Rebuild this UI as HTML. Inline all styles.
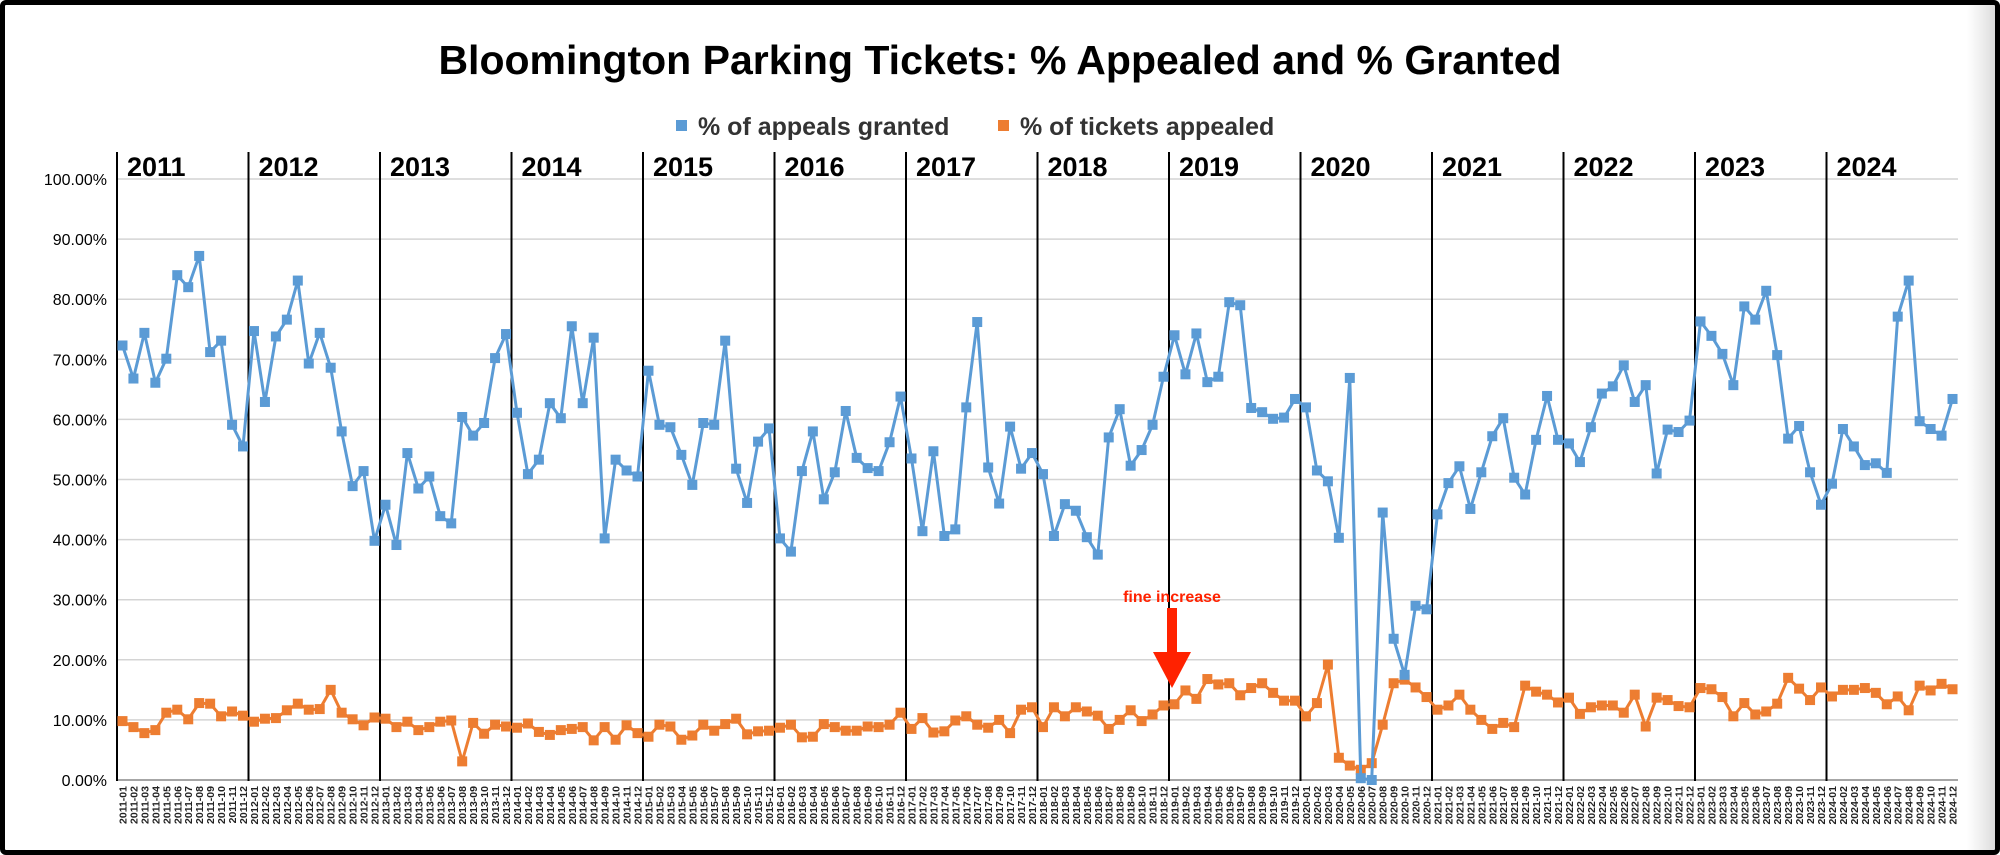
<!DOCTYPE html>
<html>
<head>
<meta charset="utf-8">
<style>
  html,body{margin:0;padding:0;background:#fff;}
  body{width:2000px;height:855px;overflow:hidden;position:relative;font-family:"Liberation Sans",Arial,sans-serif;}
  #frame{position:absolute;left:0;top:0;width:1990px;height:845px;border:5px solid #000;border-radius:6px;
    background:linear-gradient(to right,#fff 0,#fff 1962px,#f0f0f0 1975px,#dcdcdc 1990px);}
  svg{position:absolute;left:0;top:0;}
</style>
</head>
<body>
<div id="frame"></div>
<svg id="chart" width="2000" height="855" xmlns="http://www.w3.org/2000/svg">
  <text x="1000" y="74" text-anchor="middle" font-family="Liberation Sans, Arial, sans-serif" font-weight="bold" font-size="41" fill="#000">Bloomington Parking Tickets: % Appealed and % Granted</text>
  <g>
    <g>
      <rect x="676" y="120" width="11" height="11" fill="#5b9bd5"></rect>
      <text x="698" y="135" font-family="Liberation Sans, Arial, sans-serif" font-weight="bold" font-size="25" fill="#333">% of appeals granted</text>
    </g>
    <g>
      <rect x="998" y="120" width="11" height="11" fill="#ed7d31"></rect>
      <text x="1020" y="135" font-family="Liberation Sans, Arial, sans-serif" font-weight="bold" font-size="25" fill="#333">% of tickets appealed</text>
    </g>
  </g>
  <g id="grid"></g>
  <g id="yticks"></g>
  <g id="years"></g>
  <g id="xticks"></g>
  <g id="series"></g>
  <g>
    <text x="1172" y="602" text-anchor="middle" font-family="Liberation Sans, Arial, sans-serif" font-weight="bold" font-size="16" fill="#ff2200">fine increase</text>
    <rect x="1167" y="608" width="10" height="46" fill="#ff2200"></rect>
    <polygon points="1153,652 1191,652 1172,688" fill="#ff2200"></polygon>
  </g>
</svg>
<script>
const years = [2011,2012,2013,2014,2015,2016,2017,2018,2019,2020,2021,2022,2023,2024];
const months = ["01","02","03","04","05","06","07","08","09","10","11","12"];
const yTicks = [0,10,20,30,40,50,60,70,80,90,100];
const granted = [
  72.3,66.8,74.4,66.1,70.1,84.0,82.0,87.2,71.2,73.1,59.1,55.5,
  74.7,62.9,73.8,76.6,83.1,69.3,74.4,68.6,58.0,48.9,51.4,39.8,
  45.8,39.1,54.4,48.5,50.5,43.9,42.7,60.4,57.3,59.4,70.2,74.2,
  61.1,50.9,53.3,62.7,60.2,75.5,62.7,73.6,40.2,53.3,51.5,50.5,
  68.1,59.1,58.7,54.1,49.1,59.4,59.1,73.1,51.8,46.1,56.3,58.5,
  40.2,38.0,51.4,58.0,46.7,51.2,61.4,53.6,51.9,51.4,56.2,63.8,
  53.5,41.4,54.7,40.6,41.7,62.0,76.2,52.0,46.0,58.8,51.8,54.4,
  50.9,40.6,45.9,44.8,40.4,37.5,57.0,61.7,52.3,54.9,59.1,67.1,
  74.0,67.5,74.3,66.2,67.1,79.5,79.0,61.9,61.2,60.1,60.3,63.4,
  62.0,51.5,49.7,40.3,66.9,0.3,0.0,44.5,23.5,17.5,29.0,28.4,
  44.2,49.4,52.2,45.1,51.2,57.2,60.2,50.3,47.5,56.6,63.9,56.6,
  56.0,52.9,58.7,64.3,65.5,69.0,62.9,65.7,51.0,58.3,57.9,59.8,
  76.3,73.9,70.9,65.7,78.8,76.6,81.4,70.7,56.8,58.9,51.2,45.8,
  49.3,58.4,55.5,52.4,52.7,51.1,77.1,83.1,59.7,58.4,57.3,63.4
];
const appealed = [
  9.8,8.8,7.8,8.3,11.2,11.7,10.1,12.8,12.7,10.6,11.4,10.7,
  9.7,10.2,10.3,11.6,12.7,11.7,11.8,15.0,11.2,10.1,9.1,10.4,
  10.2,8.8,9.7,8.3,8.8,9.7,9.9,3.1,9.5,7.7,9.2,8.9,
  8.7,9.4,8.0,7.5,8.3,8.5,8.8,6.6,8.8,6.7,9.1,7.8,
  7.2,9.2,8.9,6.7,7.4,9.2,8.2,9.3,10.2,7.6,8.1,8.2,
  8.7,9.2,7.1,7.2,9.3,8.8,8.2,8.2,8.9,8.8,9.2,11.2,
  8.5,10.3,7.9,8.1,9.9,10.6,9.2,8.7,10.0,7.8,11.7,12.1,
  8.8,12.1,10.6,12.1,11.4,10.7,8.5,10.0,11.6,9.8,10.9,12.4,
  12.6,14.9,13.5,16.8,15.9,16.1,14.1,15.3,16.1,14.5,13.2,13.2,
  10.6,12.8,19.2,3.7,2.4,1.7,2.8,9.2,16.1,16.7,15.4,13.8,
  11.7,12.4,14.2,11.7,10.0,8.5,9.5,8.8,15.7,14.7,14.2,12.9,
  13.7,11.0,12.1,12.4,12.4,11.2,14.2,8.9,13.7,13.3,12.3,12.1,
  15.3,15.1,13.8,10.6,12.8,10.9,11.4,12.7,17.0,15.2,13.3,15.4,
  13.9,15.0,15.0,15.3,14.5,12.6,13.9,11.6,15.7,14.9,16.0,15.1
];
const categories = [];
years.forEach(function(y){ months.forEach(function(m){ categories.push(y + "-" + m); }); });

const NS = "http://www.w3.org/2000/svg";
const L = 117, R = 1958, Y0 = 780, Y100 = 179;
const n = categories.length;
const step = (R - L) / n;
function xs(i){ return L + (i + 0.5) * step; }
function ys(v){ return Y0 - (v / 100) * (Y0 - Y100); }
function mk(tag, attrs, parent){
  const e = document.createElementNS(NS, tag);
  for (const k in attrs) e.setAttribute(k, attrs[k]);
  parent.appendChild(e);
  return e;
}
const grid = document.getElementById("grid");
const yt = document.getElementById("yticks");
yTicks.forEach(function(t){
  const g = mk("line", {x1:L, x2:R, y1:ys(t), y2:ys(t), stroke: t===0 ? "#888" : "#d4d4d4", "stroke-width":1.5}, grid);
  
  
  const lab = mk("text", {x:107, y:ys(t)+6, "text-anchor":"end", "font-size":16, "font-family":"Liberation Sans, Arial, sans-serif", fill:"#000"}, yt);
  lab.textContent = t.toFixed(2) + "%";
  
  
});
const yrs = document.getElementById("years");
years.forEach(function(y, k){
  const lx = L + k * 12 * step;
  const ln = mk("line", {x1:lx, x2:lx, y1:152, y2:781, stroke:"#000", "stroke-width":2}, yrs);
  
  
  const tx = mk("text", {x:lx+10, y:176, "font-size":27, "font-weight":"bold", "font-family":"Liberation Sans, Arial, sans-serif", fill:"#000"}, yrs);
  tx.textContent = String(y);
  
  
});
const xt = document.getElementById("xticks");
categories.forEach(function(c, i){
  const x = xs(i) + 4;
  const t = mk("text", {x:x, y:786, transform:"rotate(-90 " + x + " 786)", "text-anchor":"end", "font-size":10.5, "font-weight":"bold", "font-family":"Liberation Sans, Arial, sans-serif", fill:"#222"}, xt);
  t.textContent = c;
  
  
});
const ser = document.getElementById("series");
function drawSeries(vals, color, name){
  const g = mk("g", {}, ser);
  
  
  const pts = vals.map(function(v, i){ return xs(i).toFixed(1) + "," + ys(v).toFixed(1); }).join(" ");
  const pl = mk("polyline", {points:pts, fill:"none", stroke:color, "stroke-width":3, "stroke-linejoin":"round"}, g);
  
  
  vals.forEach(function(v, i){
    const r = mk("rect", {x:xs(i)-5, y:ys(v)-5, width:10, height:10, fill:color}, g);
    
    
  });
}
drawSeries(appealed, "#ed7d31", "appealed-series");
drawSeries(granted, "#5b9bd5", "granted-series");
</script>
</body>
</html>
